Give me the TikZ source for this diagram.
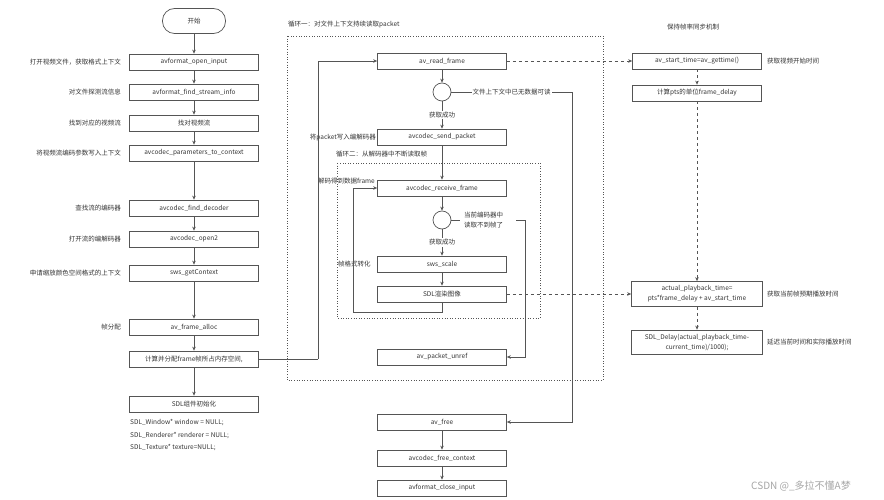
\documentclass[tikz,border=0pt]{standalone}
\usepackage{fontspec}
\setmainfont{Noto Sans CJK SC}
\usetikzlibrary{arrows.meta}
\definecolor{ln}{HTML}{555555}
\definecolor{tx}{HTML}{333333}
\begin{document}
\begin{tikzpicture}[x=1pt,y=-1pt,
  font=\fontsize{6.5}{8}\selectfont, text=tx,
  box/.style={draw=ln,line width=0.7pt,minimum width=129pt,minimum height=16pt,inner sep=1pt,align=center},
  tall/.style={box,minimum height=25pt},
  lab/.style={inner sep=1pt},
  arr/.style={draw=ln,line width=0.7pt,-{Stealth[length=4pt,width=3.5pt]}},
  ln/.style={draw=ln,line width=0.7pt},
  dsh/.style={arr,dashed},
  dotbox/.style={draw=ln,dotted,line width=0.6pt},
  circ/.style={draw=ln,line width=0.7pt,circle,minimum size=18pt,inner sep=0pt}]
\useasboundingbox[fill=white] (0,0) rectangle (884,500);
% loops
\draw[dotbox] (287,36) rectangle (603,380);
\node[lab,anchor=west] (t1) at (287,24) {循环一：对文件上下文持续读取packet};
\draw[dotbox] (337,163) rectangle (540,318);
\node[lab,anchor=west] (t2) at (335,154) {循环二：从解码器中不断读取帧};
\node[lab] (t3) at (693,27) {保持帧率同步机制};
% left column
\node[draw=ln,line width=0.7pt,rounded corners=12pt,minimum width=63pt,minimum height=25pt] (start) at (194,21) {开始};
\node[box] (a1) at (194,62) {avformat\_open\_input};
\node[box] (a2) at (194,92) {avformat\_find\_stream\_info};
\node[box] (a3) at (194,123) {找对视频流};
\node[box] (a4) at (194,153) {avcodec\_parameters\_to\_context};
\node[box] (a5) at (194,208) {avcodec\_find\_decoder};
\node[box] (a6) at (194,239) {avcodec\_open2};
\node[box] (a7) at (194,273) {sws\_getContext};
\node[box] (a8) at (194,327) {av\_frame\_alloc};
\node[box] (a9) at (194,359) {计算并分配frame帧所占内存空间,};
\node[box] (a10) at (194,404) {SDL组件初始化};
\node[lab,anchor=west] (c1) at (129,423) {SDL\_Window* window = NULL;};
\node[lab,anchor=west] (c2) at (129,435.5) {SDL\_Renderer* renderer = NULL;};
\node[lab,anchor=west] (c3) at (129,448) {SDL\_Texture* texture=NULL;};
\node[lab,anchor=east] at (122,62) {打开视频文件，获取格式上下文};
\node[lab,anchor=east] at (122,92) {对文件探测流信息};
\node[lab,anchor=east] at (122,123) {找到对应的视频流};
\node[lab,anchor=east] at (122,153) {将视频流编码参数写入上下文};
\node[lab,anchor=east] at (122,208) {查找流的编码器};
\node[lab,anchor=east] at (122,239) {打开流的编解码器};
\node[lab,anchor=east] at (122,273) {申请缩放颜色空间格式的上下文};
\node[lab,anchor=east] at (122,327) {帧分配};
\foreach \p/\q in {start/a1,a1/a2,a2/a3,a3/a4,a4/a5,a5/a6,a6/a7,a7/a8,a8/a9,a9/a10}
  \draw[arr] (\p) -- (\q);
% middle column
\node[box] (m1) at (442,61) {av\_read\_frame};
\node[circ] (k1) at (442,92) {};
\node[box] (m2) at (442,137) {avcodec\_send\_packet};
\node[box] (m3) at (442,188) {avcodec\_receive\_frame};
\node[circ] (k2) at (442,220) {};
\node[box] (m4) at (442,264) {sws\_scale};
\node[box] (m5) at (442,294) {SDL渲染图像};
\node[box] (m6) at (442,357) {av\_packet\_unref};
\node[box] (m7) at (442,422) {av\_free};
\node[box] (m8) at (442,458) {avcodec\_free\_context};
\node[box] (m9) at (442,488) {avformat\_close\_input};
\node[lab,anchor=east] at (377,137) {将packet写入编解码器};
\node[lab,anchor=east] at (376,181) {解码得到数据frame};
\node[lab,anchor=west] at (337,264) {帧格式转化};
\coordinate (p1) at (318,359);
\coordinate (p2) at (318,61);
\draw[ln] (a9) -- (p1);
\draw[arr] (p1) -- (p2) -- (m1);
\draw[arr] (m1) -- (k1);
\draw[arr] (k1) -- node[fill=white,lab] {获取成功} (m2);
\draw[arr] (m2) -- (m3);
\draw[arr] (m3) -- (k2);
\draw[arr] (k2) -- node[fill=white,lab] {获取成功} (m4);
\draw[arr] (m4) -- (m5);
\coordinate (q1) at (442,312);
\coordinate (q2) at (353,312);
\coordinate (q3) at (353,188);
\draw[arr] (m5) -- (q1) -- (q2) -- (q3) -- (m3);
\coordinate (r1) at (572,92);
\coordinate (r2) at (572,422);
\draw[arr] (k1) -- node[fill=white,lab] {文件上下文中已无数据可读} (r1) -- (r2) -- (m7);
\coordinate (s1) at (525,220);
\coordinate (s2) at (525,357);
\draw[ln] (k2) -- (460,220);
\node[lab,align=left,anchor=west] (s0) at (463,220) {当前编码器中\\[2pt]读取不到帧了};
\draw[arr] (516,220) -- (s1) -- (s2) -- (m6);
\draw[arr] (m7) -- (m8);
\draw[arr] (m8) -- (m9);
% right column
\node[box] (n1) at (697,61) {av\_start\_time=av\_gettime()};
\node[box] (n2) at (697,93) {计算pts的单位frame\_delay};
\node[tall,minimum width=131pt] (n3) at (697,294) {actual\_playback\_time=\\[2pt]pts*frame\_delay + av\_start\_time};
\node[tall,minimum width=131pt,minimum height=24pt] (n4) at (697,342) {SDL\_Delay(actual\_playback\_time-\\[2pt]current\_time)/1000);};
\node[lab,anchor=west] at (766,61) {获取视频开始时间};
\node[lab,anchor=west] at (766,294) {获取当前帧预期播放时间};
\node[lab,anchor=west] at (766,342) {延迟当前时间和实际播放时间};
\draw[dsh] (m1) -- (n1);
\draw[dsh] (m5) -- (n3);
\draw[dsh] (n1) -- (n2);
\draw[dsh] (n2) -- (n3);
\draw[dsh] (n3) -- (n4);
\node[lab,text=gray!70,font=\fontsize{10}{12}\selectfont] at (801,486) {CSDN @\_多拉不懂A梦};
\end{tikzpicture}
\end{document}
